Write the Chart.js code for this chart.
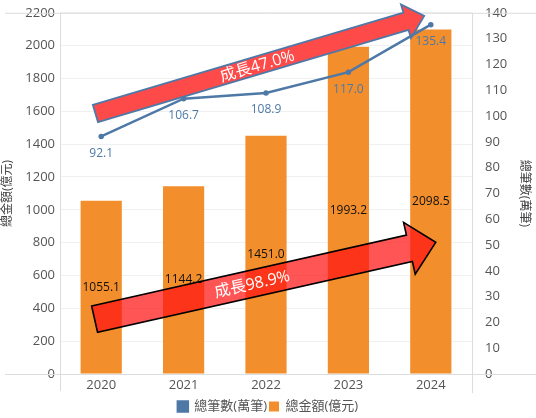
<!DOCTYPE html>
<html>
<head>
<meta charset="utf-8">
<script src="https://cdn.jsdelivr.net/npm/chart.js@4.4.1/dist/chart.umd.min.js"></script>
<style>
  html, body { margin: 0; padding: 0; background: #fff; }
  #wrap { width: 536px; height: 418px; }
</style>
</head>
<body>
<div id="wrap"><canvas id="chart-growth"></canvas></div>
<script>
// data
const years = ['2020', '2021', '2022', '2023', '2024'];
const amountValues = [1055.1, 1144.2, 1451.0, 1993.2, 2098.5];   // 總金額(億元)
const countValues = [92.1, 106.7, 108.9, 117.0, 135.4];          // 總筆數(萬筆)
const amountAxis = { max: 2200, step: 200 };
const countAxis = { max: 140, step: 10 };
const growthNotes = ['成長47.0%', '成長98.9%'];

const FONT = "'Open Sans', 'Noto Sans CJK TC', sans-serif";
const BLUE = '#4e79a7';
const ORANGE = '#f28e2b';
const GREY = '#555';

// arrow shape along x0,y0 -> x1,y1
function drawArrow(ctx, x0, y0, x1, y1, shaft, headW, headL, fill, stroke, lw, label, t) {
    const ang = Math.atan2(y1 - y0, x1 - x0);
    const len = Math.hypot(x1 - x0, y1 - y0);
    ctx.save();
    ctx.translate(x0, y0);
    ctx.rotate(ang);
    ctx.beginPath();
    ctx.moveTo(0, -shaft / 2);
    ctx.lineTo(len - headL, -shaft / 2);
    ctx.lineTo(len - headL, -headW / 2);
    ctx.lineTo(len, 0);
    ctx.lineTo(len - headL, headW / 2);
    ctx.lineTo(len - headL, shaft / 2);
    ctx.lineTo(0, shaft / 2);
    ctx.closePath();
    ctx.fillStyle = fill;
    ctx.fill();
    ctx.lineWidth = lw;
    ctx.strokeStyle = stroke;
    ctx.lineJoin = 'miter';
    ctx.stroke();
    ctx.fillStyle = '#fff';
    ctx.font = '16px ' + FONT;
    ctx.textAlign = 'center';
    ctx.textBaseline = 'middle';
    ctx.fillText(label, (len - headL) * t, 1);
    ctx.restore();
}

const growthArrows = {
    id: 'growthArrows',
    afterDatasetDraw(chart, args) {
        if (args.meta.type !== 'bar') return;
        const ctx = chart.ctx;
        const x = chart.scales.x, yl = chart.scales.y, yr = chart.scales.y1;
        const step = x.getPixelForValue(1) - x.getPixelForValue(0);
        const px = (i) => x.getPixelForValue(0) + step * i;
        // lower arrow (amount), semi transparent over bars
        drawArrow(ctx, px(-0.08), yl.getPixelForValue(334), px(4.06), yl.getPixelForValue(802),
            27, 53, 27, 'rgba(255, 20, 20, 0.72)', '#000', 1.6, growthNotes[1], 0.5);
        // upper arrow (count)
        drawArrow(ctx, px(-0.07), yr.getPixelForValue(101), px(3.92), yr.getPixelForValue(138.8),
            18, 35, 19, '#ff4a4a', BLUE, 1.8, growthNotes[0], 0.52);
    }
};

const valueLabels = {
    id: 'valueLabels',
    afterDatasetsDraw(chart) {
        const ctx = chart.ctx;
        ctx.save();
        ctx.font = '12px ' + FONT;
        ctx.textAlign = 'center';
        ctx.textBaseline = 'middle';
        chart.data.datasets.forEach((ds, di) => {
            const meta = chart.getDatasetMeta(di);
            meta.data.forEach((el, i) => {
                const txt = ds.data[i].toFixed(1);
                if (meta.type === 'bar') {
                    ctx.fillStyle = '#111';
                    ctx.fillText(txt, el.x, (el.y + el.base) / 2);
                } else {
                    ctx.fillStyle = BLUE;
                    ctx.fillText(txt, el.x, el.y + 17);
                }
            });
        });
        ctx.restore();
    }
};

const frameLines = {
    id: 'frameLines',
    afterLayout(chart) {
        // nudge the legend a few px lower, like the reference
        chart.legend.top += 5;
        chart.legend.bottom += 5;
    },
    beforeDatasetsDraw(chart) {
        const ctx = chart.ctx, a = chart.chartArea;
        ctx.save();
        ctx.strokeStyle = '#dcdcdc';
        ctx.lineWidth = 1;
        ctx.beginPath();
        ctx.moveTo(5, a.top + 0.5); ctx.lineTo(chart.width, a.top + 0.5);
        ctx.moveTo(5, a.bottom + 0.5); ctx.lineTo(chart.width, a.bottom + 0.5);
        ctx.moveTo(a.left + 0.5, a.top); ctx.lineTo(a.left + 0.5, a.bottom + 17);
        ctx.moveTo(a.right + 0.5, a.top); ctx.lineTo(a.right + 0.5, a.bottom + 19);
        ctx.stroke();
        ctx.restore();
    }
};

const ctxGrowth = document.getElementById('chart-growth');

let growthChart = new Chart(ctxGrowth, {
    data: {
        labels: years,
        datasets: [{
            type: 'line',
            label: '總筆數(萬筆)',
            data: countValues,
            yAxisID: 'y1',
            borderColor: BLUE,
            backgroundColor: BLUE,
            borderWidth: 2.5,
            pointRadius: 1.5,
            pointHoverRadius: 1.5,
            tension: 0,
            order: 0
        }, {
            type: 'bar',
            label: '總金額(億元)',
            data: amountValues,
            yAxisID: 'y',
            backgroundColor: ORANGE,
            borderWidth: 0,
            barPercentage: 0.5,
            categoryPercentage: 1,
            order: 1
        }]
    },
    options: {
        responsive: true,
        maintainAspectRatio: false,
        animation: false,
        layout: { padding: { top: 12, bottom: 0 } },
        scales: {
            x: {
                grid: { display: false, drawTicks: false },
                border: { display: false },
                ticks: { color: GREY, font: { family: FONT, size: 13 }, padding: 3 },
                afterFit(scale) { scale.height = 19; }
            },
            y: {
                position: 'left',
                min: 0,
                max: amountAxis.max,
                ticks: {
                    stepSize: amountAxis.step, color: GREY, font: { family: FONT, size: 13 }, padding: 5,
                    callback: (v) => String(v)
                },
                grid: { color: '#f0f0f0', drawTicks: false },
                border: { display: false },
                title: { display: true, text: '總金額(億元)', color: '#444', font: { family: FONT, size: 12 }, padding: 0 },
                afterFit(scale) { scale.width = 60; }
            },
            y1: {
                position: 'right',
                min: 0,
                max: countAxis.max,
                ticks: { stepSize: countAxis.step, color: GREY, font: { family: FONT, size: 13 }, padding: 5 },
                grid: { display: false },
                border: { display: false },
                title: { display: true, text: '總筆數(萬筆)', color: '#444', font: { family: FONT, size: 12 }, padding: 4 },
                afterFit(scale) { scale.width = 64; }
            }
        },
        plugins: {
            legend: {
                position: 'bottom',
                labels: {
                    usePointStyle: true,
                    pointStyle: 'rect',
                    boxWidth: 10,
                    boxHeight: 10,
                    padding: 2,
                    color: GREY,
                    font: { family: FONT, size: 13 }
                }
            },
            tooltip: { enabled: false }
        }
    },
    plugins: [frameLines, growthArrows, valueLabels]
});
</script>
</body>
</html>
